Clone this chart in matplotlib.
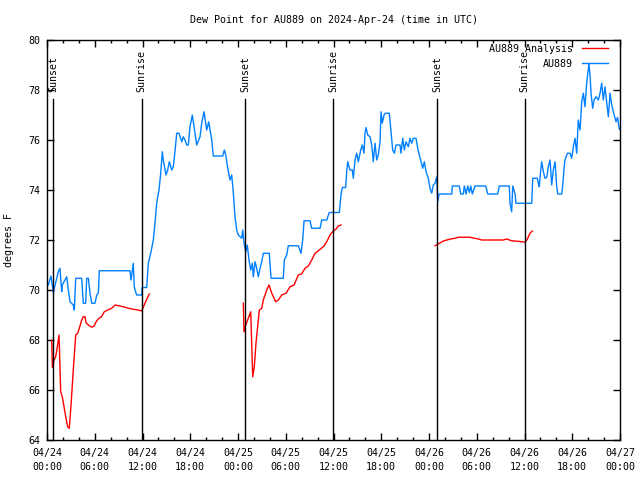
import numpy as np
import pandas as pd
import matplotlib
matplotlib.use("Agg")
import matplotlib.pyplot as plt
from matplotlib.ticker import MultipleLocator
import matplotlib.transforms as mtransforms

plt.rcParams['font.family'] = ['DejaVu Sans Mono']

# ---- data (hours since 2024-04-24 00:00 UTC) ----
base = pd.Timestamp("2024-04-24 00:00")

obs_hours = [0.16, 0.50, 0.79, 1.42, 1.63, 1.85, 1.92, 2.48, 2.68, 2.89, 3.30, 3.43, 3.61, 4.36, 4.56,
             4.86, 4.99, 5.20, 5.40, 5.62, 6.03, 6.25, 6.45, 6.57, 10.43, 10.56, 10.84, 10.97, 11.06,
             11.27, 11.90, 11.95, 12.53, 12.73, 13.03, 13.36, 13.57, 13.78, 14.07, 14.29, 14.49, 14.61,
             14.95, 15.16, 15.37, 15.67, 15.87, 16.08, 16.30, 16.59, 16.93, 17.13, 17.34, 17.55, 17.75,
             17.97, 18.26, 18.47, 18.81, 19.23, 19.44, 19.73, 20.07, 20.32, 20.70, 20.90, 22.08, 22.28,
             22.46, 22.71, 23.00, 23.21, 23.41, 23.62, 23.84, 24.04, 24.47, 24.59, 24.76, 24.97, 25.17,
             25.38, 25.60, 25.80, 25.92, 26.14, 26.35, 26.55, 26.77, 26.98, 27.18, 27.93, 28.15, 29.69,
             29.82, 30.12, 30.32, 31.58, 31.92, 32.13, 32.30, 33.05, 33.26, 34.31, 34.52, 35.15, 35.47,
             36.73, 36.94, 37.11, 37.53, 37.66, 37.79, 38.07, 38.36, 38.49, 38.70, 38.92, 39.12, 39.42,
             39.62, 39.83, 39.96, 40.09, 40.30, 40.59, 40.80, 41.00, 41.22, 41.43, 41.63, 41.85, 41.97,
             42.13, 42.35, 42.51, 43.01, 43.23, 43.44, 43.64, 43.86, 44.36, 44.48, 44.70, 44.90, 45.11,
             45.40, 45.61, 45.83, 46.03, 46.37, 46.58, 46.78, 47.00, 47.21, 47.41, 47.63, 47.91, 48.13,
             48.34, 48.54, 48.76, 48.97, 49.10, 49.26, 50.86, 50.93, 51.81, 51.99, 52.31, 52.44, 52.65,
             52.87, 53.07, 53.24, 53.44, 53.78, 55.13, 55.38, 56.63, 56.83, 58.09, 58.18, 58.39, 58.52,
             58.81, 58.93, 60.91, 61.03, 61.61, 61.74, 61.86, 62.04, 62.16, 62.37, 62.58, 62.79, 62.99,
             63.21, 63.42, 63.62, 63.84, 64.05, 64.18, 64.68, 64.81, 64.97, 65.09, 65.38, 65.72, 65.93,
             66.14, 66.35, 66.56, 66.76, 66.98, 67.19, 67.39, 67.60, 67.81, 68.10, 68.23, 68.36, 68.57,
             68.74, 68.99, 69.28, 69.49, 69.70, 69.90, 70.12, 70.33, 70.54, 70.75, 70.96, 71.16, 71.50,
             71.69, 71.92]
obs_vals = [70.2, 70.56, 69.9, 70.73, 70.87, 69.93, 70.2, 70.53, 70.0, 69.53, 69.4, 69.2, 70.47, 70.47, 69.47,
            69.47, 70.47, 70.47, 69.87, 69.47, 69.47, 69.8, 69.87, 70.77, 70.77, 70.4, 71.07, 70.13, 70.0,
            69.8, 69.8, 70.1, 70.1, 71.07, 71.47, 72.0, 72.67, 73.47, 74.0, 74.67, 75.53, 75.2,
            74.6, 74.8, 75.13, 74.8, 74.93, 75.53, 76.27, 76.27, 75.93, 76.13, 76.0, 75.8, 75.8,
            76.53, 77.0, 76.53, 75.8, 76.13, 76.67, 77.13, 76.4, 76.73, 76.0, 75.36, 75.36, 75.6,
            75.4, 74.87, 74.4, 74.6, 73.9, 72.93, 72.4, 72.2, 72.07, 72.4, 71.87, 71.53, 71.8,
            71.2, 70.8, 71.07, 70.53, 71.13, 70.87, 70.53, 70.87, 71.13, 71.47, 71.47, 70.47, 70.47,
            71.2, 71.4, 71.77, 71.77, 71.47, 72.0, 72.77, 72.77, 72.47, 72.47, 72.8, 72.8, 73.1,
            73.1, 73.8, 74.1, 74.1, 74.73, 75.13, 74.8, 74.8, 74.47, 75.2, 75.47, 75.13, 75.6,
            75.8, 75.47, 76.27, 76.5, 76.2, 76.13, 75.8, 75.13, 75.87, 75.2, 75.4, 75.93, 77.13,
            76.67, 77.0, 77.07, 77.07, 76.33, 75.6, 75.47, 75.8, 75.8, 75.47, 76.07, 75.6, 75.93,
            75.73, 76.07, 75.87, 76.07, 76.07, 75.67, 75.4, 75.13, 74.87, 75.13, 74.73, 74.47, 74.07,
            73.87, 74.2, 74.27, 74.53, 73.53, 73.84, 73.84, 74.16, 74.16, 73.84, 73.84, 74.16, 73.84,
            74.16, 73.9, 74.16, 73.84, 74.16, 74.16, 73.84, 73.84, 74.16, 74.16, 73.47, 73.13, 74.16,
            73.84, 73.47, 73.47, 74.47, 74.47, 74.27, 74.13, 74.8, 75.13, 74.73, 74.47, 74.5, 74.93,
            75.2, 74.2, 74.8, 75.13, 74.13, 73.84, 73.84, 74.2, 74.87, 75.2, 75.47, 75.47, 75.27,
            75.73, 76.07, 75.47, 76.8, 76.4, 77.53, 77.87, 77.33, 78.27, 79.07, 78.6, 77.87, 77.27,
            77.6, 77.73, 77.6, 77.87, 78.27, 77.6, 78.13, 77.5, 76.93, 77.87, 77.4, 77.13, 76.73,
            76.9, 76.43]

ana_hours = [0.59, 0.68, 0.88, 1.09, 1.30, 1.51, 1.72, 1.92, 2.14, 2.35, 2.60, 2.80, 3.02, 3.30, 3.61,
             3.86, 4.06, 4.36, 4.56, 4.78, 4.90, 5.20, 5.62, 5.91, 6.25, 6.54, 6.84, 7.20, 7.63, 8.13,
             8.55, 9.59, 10.22, 10.84, 11.47, 11.90, 12.31, 12.85,
             np.nan,
             24.67, 24.75, 24.97, 25.30, 25.60, 25.72, 25.85, 26.05, 26.26, 26.55, 26.68, 26.98, 27.18,
             27.61, 27.90, 28.24, 28.74, 29.07, 29.49, 30.03, 30.54, 31.04, 31.58, 32.01, 32.42, 32.84,
             33.26, 33.68, 34.22, 34.81, 35.15, 35.56, 35.90, 36.32, 36.60, 36.94,
             np.nan,
             48.76, 49.17, 49.47, 49.80, 50.23, 50.73, 51.27, 51.69, 53.15, 53.57, 54.20, 54.62, 57.34,
             57.76, 58.39, 59.44, 60.07, 60.35, 60.69, 60.98]
ana_vals = [68.0, 66.9, 67.2, 67.33, 67.73, 68.2, 65.93, 65.73, 65.33, 64.93, 64.53, 64.47, 65.4, 66.8, 68.2,
            68.27, 68.47, 68.8, 68.93, 68.93, 68.69, 68.6, 68.51, 68.56, 68.77, 68.87, 68.93, 69.13, 69.2, 69.27,
            69.4, 69.33, 69.27, 69.23, 69.2, 69.16, 69.47, 69.84,
            np.nan,
            69.47, 68.33, 68.6, 68.87, 69.13, 67.87, 66.53, 66.93, 67.87, 68.8, 69.2, 69.27, 69.6,
            70.0, 70.2, 69.87, 69.53, 69.6, 69.8, 69.87, 70.13, 70.2, 70.6, 70.65, 70.87, 70.96,
            71.2, 71.47, 71.6, 71.76, 71.93, 72.2, 72.33, 72.44, 72.56, 72.6,
            np.nan,
            71.77, 71.84, 71.9, 71.96, 72.0, 72.04, 72.07, 72.11, 72.11, 72.08, 72.04, 72.0, 72.0,
            72.04, 71.97, 71.94, 71.91, 72.03, 72.27, 72.36]

sun_events = ["Sunset", "Sunrise", "Sunset", "Sunrise", "Sunset", "Sunrise"]
sun_hours = [0.78, 11.88, 24.9, 35.95, 49.0, 60.0]

tick_hours = list(range(0, 73, 6))
tick_labels = [(base + pd.Timedelta(hours=h)).strftime("%m/%d\n%H:%M") for h in tick_hours]

title = "Dew Point for AU889 on 2024-Apr-24 (time in UTC)"
ylabel = "degrees F"
ana_name = "AU889 Analysis"
obs_name = "AU889"

# ---- figure ----
fig = plt.figure(figsize=(6.4, 4.8), dpi=100)
ax = fig.add_axes([47/640, 40/480, 573/640, 400/480])

fs = 7.2
red = "#ff0000"
blue = "#0080ff"

l1, = ax.plot(ana_hours, ana_vals, color=red, lw=1.0, label=ana_name)
l2, = ax.plot(obs_hours, obs_vals, color=blue, lw=1.0, label=obs_name)

trans = mtransforms.blended_transform_factory(ax.transData, ax.transAxes)
for name, h in zip(sun_events, sun_hours):
    ax.plot([h, h], [0, 0.8525], transform=trans, color="black", lw=1.0)
    ax.text(h, 0.87, name, transform=trans, rotation=90, ha="center", va="bottom",
            fontsize=fs)

ax.set_xlim(0, 72)
ax.set_ylim(64, 80)
ax.set_xticks(tick_hours)
labs = ax.set_xticklabels(tick_labels, fontsize=fs)
for t in labs:
    t.set_linespacing(1.5)
ax.xaxis.set_minor_locator(MultipleLocator(2))
ax.set_yticks(np.arange(64, 81, 2))
ax.tick_params(axis="y", labelsize=fs)
ax.tick_params(which="both", direction="in", top=True, right=True, width=1.0)
ax.tick_params(which="major", length=5)
ax.tick_params(which="minor", length=2.5)
ax.tick_params(axis="x", pad=6)
ax.tick_params(axis="y", pad=5)
for s in ax.spines.values():
    s.set_linewidth(1.0)

ax.set_title(title, fontsize=fs, pad=12)
ax.set_ylabel(ylabel, fontsize=fs, labelpad=10)

leg = ax.legend(handles=[l1, l2], loc="upper right", markerfirst=False, frameon=False,
                fontsize=fs, handlelength=2.6, borderaxespad=0.0, labelspacing=0.5,
                handletextpad=0.9, borderpad=0.0,
                bbox_to_anchor=(1 - 12/573, 1 - 4/400))

fig.savefig("out.png", dpi=100)
